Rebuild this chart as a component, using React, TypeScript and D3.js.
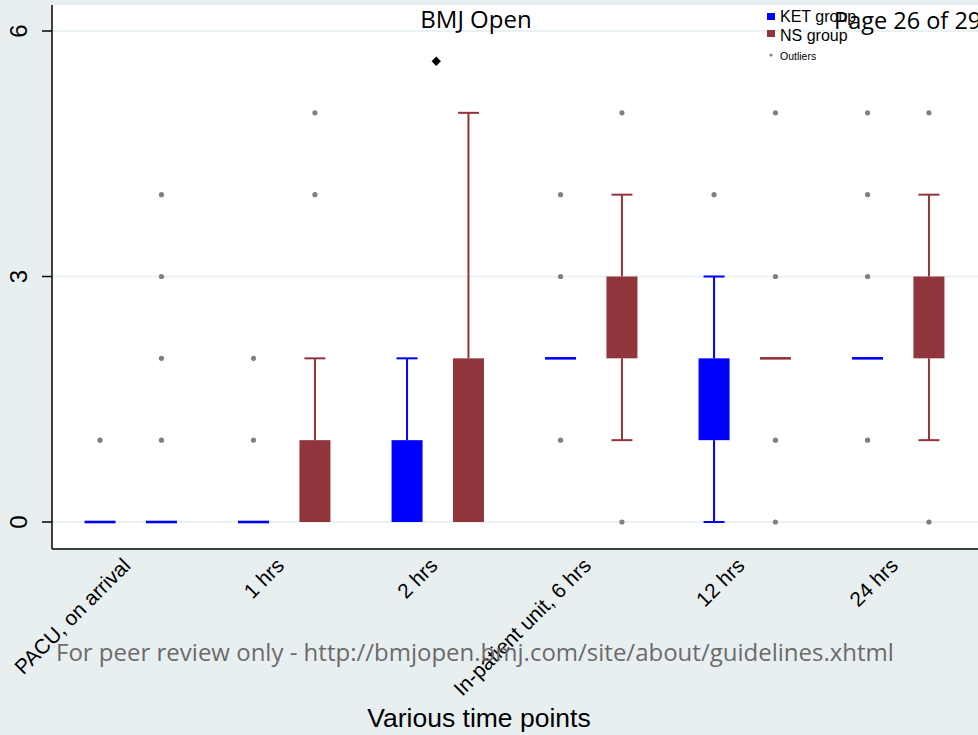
import React from 'react';
import * as d3 from 'd3';

// time points on the x axis
const categories = ['PACU, on arrival', '1 hrs', '2 hrs', 'In-patient unit, 6 hrs', '12 hrs', '24 hrs'];

// KET group box stats
const ketLow = [0, 0, 0, 2, 0, 2];
const ketQ1 = [0, 0, 0, 2, 1, 2];
const ketMedian = [0, 0, 1, 2, 2, 2];
const ketQ3 = [0, 0, 1, 2, 2, 2];
const ketHigh = [0, 0, 2, 2, 3, 2];
const ketOutliers = [[1], [1, 2], [], [1, 3, 4], [4], [1, 3, 4, 5]];

// NS group box stats
const nsLow = [0, 0, 0, 1, 2, 1];
const nsQ1 = [0, 0, 0, 2, 2, 2];
const nsMedian = [0, 0, 2, 3, 2, 3];
const nsQ3 = [0, 1, 2, 3, 2, 3];
const nsHigh = [0, 2, 5, 4, 2, 4];
const nsOutliers = [[1, 2, 3, 4], [4, 5], [], [0, 5], [0, 1, 3, 5], [0, 5]];
// in the original the flat NS line at arrival comes out in the KET colour
const nsBlueLine = ['PACU, on arrival'];

const yTicks = [0, 3, 6];
// stray black diamond sitting above the 2 hrs group
const stray = { cat: '2 hrs', value: 5.63 };

const KET = '#0000ff';
const NS = '#90353b';
const BG = '#e8eff1';
const GRID = '#eaf2f3';
const SANS = '"Liberation Sans", Arial, sans-serif';
const PAGE = '"Open Sans", sans-serif';

const W = 978;
const H = 735;
const plot = { left: 52, right: 978, top: 5, bottom: 549 };

export default function App() {
  const x = d3.scaleBand<string>().domain(categories).range([54, 975]);
  const y = d3.scaleLinear().domain([0, 6]).range([522, 31]);
  const off = x.bandwidth() * 0.2;
  const boxW = 31;
  const capW = 21;

  const groups = [
    { name: 'KET', color: KET, dx: -off, low: ketLow, q1: ketQ1, med: ketMedian, q3: ketQ3, high: ketHigh, out: ketOutliers },
    { name: 'NS', color: NS, dx: off, low: nsLow, q1: nsQ1, med: nsMedian, q3: nsQ3, high: nsHigh, out: nsOutliers },
  ];

  const cx = (c: string) => (x(c) as number) + x.bandwidth() / 2;
  const diamond = d3.symbol().type(d3.symbolSquare).size(44)();

  return (
    <div style={{ position: 'fixed', left: 0, top: 0 }}>
      <svg width={W} height={H} style={{ display: 'block' }}>
        <rect x={0} y={0} width={W} height={H} fill={BG} />
        <rect x={plot.left} y={plot.top} width={plot.right - plot.left} height={plot.bottom - plot.top} fill="#fff" />

        {yTicks.map(t => (
          <line key={'g' + t} x1={plot.left} x2={plot.right} y1={y(t)} y2={y(t)} stroke={GRID} strokeWidth={2} />
        ))}

        {groups.map(g =>
          categories.map((c, i) => {
            const px = cx(c) + g.dx;
            const flat = g.q1[i] === g.q3[i];
            const lineColor = g.name === 'NS' && nsBlueLine.includes(c) ? KET : g.color;
            return (
              <g key={g.name + c}>
                {g.high[i] > g.q3[i] && (
                  <>
                    <line x1={px} x2={px} y1={y(g.q3[i])} y2={y(g.high[i])} stroke={g.color} strokeWidth={2} />
                    <line x1={px - capW / 2} x2={px + capW / 2} y1={y(g.high[i])} y2={y(g.high[i])} stroke={g.color} strokeWidth={2} />
                  </>
                )}
                {g.low[i] < g.q1[i] && (
                  <>
                    <line x1={px} x2={px} y1={y(g.q1[i])} y2={y(g.low[i])} stroke={g.color} strokeWidth={2} />
                    <line x1={px - capW / 2} x2={px + capW / 2} y1={y(g.low[i])} y2={y(g.low[i])} stroke={g.color} strokeWidth={2} />
                  </>
                )}
                {flat ? (
                  <line x1={px - boxW / 2} x2={px + boxW / 2} y1={y(g.med[i])} y2={y(g.med[i])} stroke={lineColor} strokeWidth={2.6} />
                ) : (
                  <rect x={px - boxW / 2} y={y(g.q3[i])} width={boxW} height={y(g.q1[i]) - y(g.q3[i])} fill={g.color} />
                )}
                {g.out[i].map(v => (
                  <circle key={v} cx={px} cy={y(v)} r={2.6} fill="#808080" />
                ))}
              </g>
            );
          })
        )}

        <path d={diamond as string} transform={`translate(${cx(stray.cat) - 1.5},${y(stray.value)}) rotate(45)`} fill="#000" />

        {/* axes */}
        <line x1={plot.left} x2={plot.left} y1={plot.top} y2={plot.bottom} stroke="#000" strokeWidth={1.5} />
        <line x1={plot.left} x2={plot.right} y1={plot.bottom} y2={plot.bottom} stroke="#000" strokeWidth={1.5} />
        {yTicks.map(t => (
          <g key={'t' + t}>
            <line x1={plot.left - 10} x2={plot.left} y1={y(t)} y2={y(t)} stroke="#000" strokeWidth={1.5} />
            <text transform={`translate(27,${y(t)}) rotate(-90)`} textAnchor="middle" fontFamily={SANS} fontSize={24} fill="#000">{t}</text>
          </g>
        ))}
        {categories.map(c => (
          <text key={'l' + c} transform={`translate(${cx(c) + 1},${plot.bottom + 18}) rotate(-45)`} textAnchor="end" fontFamily={SANS} fontSize={20.8} fill="#000">{c}</text>
        ))}
        <text x={479} y={727} textAnchor="middle" fontFamily={SANS} fontSize={26.5} fill="#000">Various time points</text>

        {/* legend */}
        <rect x={767} y={13} width={8} height={7} fill={KET} />
        <text x={780} y={22} fontFamily={SANS} fontSize={16} fill="#000">KET group</text>
        <rect x={767} y={30} width={8} height={7} fill={NS} />
        <text x={780} y={41} fontFamily={SANS} fontSize={16} fill="#000">NS group</text>
        <circle cx={771} cy={55} r={1.6} fill="#808080" />
        <text x={780} y={60} fontFamily={SANS} fontSize={10.5} fill="#000">Outliers</text>

        {/* page stamps */}
        <text x={476} y={28} textAnchor="middle" fontFamily={PAGE} fontSize={24} fill="#000">BMJ Open</text>
        <text x={834} y={29} fontFamily={PAGE} fontSize={23.5} fill="#000">Page 26 of 29</text>
        <text x={56} y={661} fontFamily={PAGE} fontSize={24} fill="#6b6b6b">For peer review only - http://bmjopen.bmj.com/site/about/guidelines.xhtml</text>
      </svg>
    </div>
  );
}
